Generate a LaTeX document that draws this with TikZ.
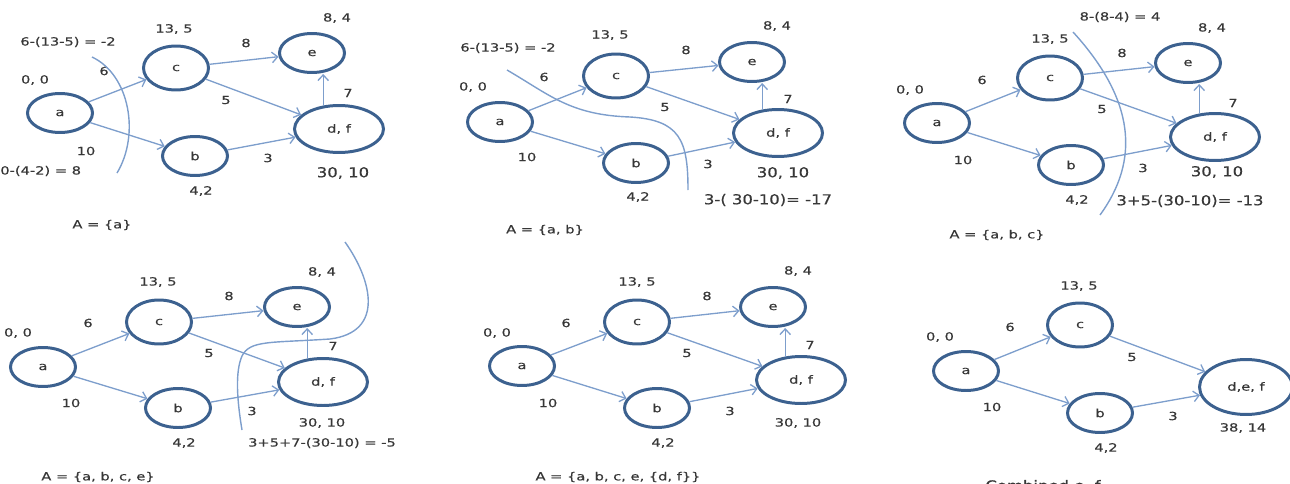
\documentclass[tikz,border=0pt]{standalone}
\usepackage{fontspec}
\setmainfont{DejaVu Sans}
\newfontfamily\smfont[FakeStretch=1.3,FakeBold=0.4]{DejaVu Sans}
\newfontfamily\lgfont[FakeStretch=1.2,FakeBold=0.4]{DejaVu Sans}
\usetikzlibrary{shapes.geometric,arrows.meta}
\definecolor{nodeblue}{RGB}{60,97,143}
\definecolor{edgeblue}{RGB}{125,158,204}
\definecolor{txt}{RGB}{55,55,55}
\tikzset{
 vert/.style={ellipse, draw=nodeblue, line width=1.7pt, minimum width=1.30cm, minimum height=0.78cm, inner sep=0pt, text=txt, font=\smfont\fontsize{6.4}{7}\selectfont},
 tall/.style={minimum height=0.88cm},
 big/.style={minimum width=1.78cm, minimum height=0.94cm},
 lab/.style={inner sep=0pt, text=txt, font=\smfont\fontsize{6.4}{7}\selectfont},
 lablg/.style={inner sep=0pt, text=txt, font=\lgfont\fontsize{7.8}{9}\selectfont},
 edge/.style={draw=edgeblue, line width=0.75pt, -{Straight Barb[length=3.2pt,width=6pt]}},
 cutline/.style={draw=edgeblue, line width=0.8pt},
}
\begin{document}
\begin{tikzpicture}[x=0.02cm,y=-0.02cm]
\useasboundingbox (0,0) rectangle (1290,483);
\clip (0,0) rectangle (1290,483);
% ---------------- Panel 1 ----------------
\node[vert] (a1) at (60,113) {a};
\node[vert,tall] (c1) at (176,68) {c};
\node[vert] (e1) at (312,53) {e};
\node[vert] (b1) at (195,156) {b};
\node[vert,big] (d1) at (339,129) {d, f};
\draw[edge] (a1) -- (c1);
\draw[edge] (a1) -- (b1);
\draw[edge] (c1) -- (e1);
\draw[edge] (c1) -- (d1);
\draw[edge] (b1) -- (d1);
\draw[edge] (d1.124) -- (d1.124 |- e1.south);
\node[lab] (p1n00) at (35,80) {0, 0};
\node[lab] (p1n135) at (174,29) {13, 5};
\node[lab] (p1n84) at (337,18) {8, 4};
\node[lab] (p1n42) at (201,191) {4,2};
\node[lablg] (p1n3010) at (343,173) {30, 10};
\node[lab] (p1w6) at (104,71) {6};
\node[lab] (p1w10) at (86,151) {10};
\node[lab] (p1w8) at (246,43) {8};
\node[lab] (p1w5) at (226,100) {5};
\node[lab] (p1w3) at (268,158) {3};
\node[lab] (p1w7) at (348,93) {7};
\node[lab] (p1f1) at (68,42) {6-(13-5) = -2};
\node[lab,anchor=west] (p1f2) at (0,171) {0-(4-2) = 8};
\node[lab] (p1cap) at (102,225) {A = \{a\}};
\draw[cutline] (92,57) .. controls (130,75) and (140,135) .. (117,173);
% ---------------- Panel 2 ----------------
\node[vert] (a2) at (500,122) {a};
\node[vert,tall] (c2) at (616,76) {c};
\node[vert] (e2) at (752,62) {e};
\node[vert] (b2) at (636,163) {b};
\node[vert,big] (d2) at (778,133) {d, f};
\draw[edge] (a2) -- (c2);
\draw[edge] (a2) -- (b2);
\draw[edge] (c2) -- (e2);
\draw[edge] (c2) -- (d2);
\draw[edge] (b2) -- (d2);
\draw[edge] (d2.124) -- (d2.124 |- e2.south);
\node[lab] (p2n00) at (473,87) {0, 0};
\node[lab] (p2n135) at (610,35) {13, 5};
\node[lab] (p2n84) at (777,26) {8, 4};
\node[lab] (p2n42) at (638,197) {4,2};
\node[lablg] (p2n3010) at (783,173) {30, 10};
\node[lab] (p2w6) at (544,77) {6};
\node[lab] (p2w10) at (527,157) {10};
\node[lab] (p2w8) at (686,50) {8};
\node[lab] (p2w5) at (665,107) {5};
\node[lab] (p2w3) at (708,164) {3};
\node[lab] (p2w7) at (788,99) {7};
\node[lab] (p2f1) at (508,48) {6-(13-5) = -2};
\node[lablg] (p2f2) at (768,200) {3-( 30-10)= -17};
\node[lab] (p2cap) at (545,230) {A = \{a, b\}};
\draw[cutline] (507,70) .. controls (550,95) and (570,115) .. (630,117)
  .. controls (680,120) and (688,140) .. (688,190);
% ---------------- Panel 3 ----------------
\node[vert] (a3) at (937,123) {a};
\node[vert,tall] (c3) at (1050,78) {c};
\node[vert] (e3) at (1188,63) {e};
\node[vert] (b3) at (1071,165) {b};
\node[vert,big] (d3) at (1215,137) {d, f};
\draw[edge] (a3) -- (c3);
\draw[edge] (a3) -- (b3);
\draw[edge] (c3) -- (e3);
\draw[edge] (c3) -- (d3);
\draw[edge] (b3) -- (d3);
\draw[edge] (d3.124) -- (d3.124 |- e3.south);
\node[lab] (p3n00) at (910,90) {0, 0};
\node[lab] (p3n135) at (1050,39) {13, 5};
\node[lab] (p3n84) at (1212,28) {8, 4};
\node[lab] (p3n42) at (1077,200) {4,2};
\node[lablg] (p3n3010) at (1217,172) {30, 10};
\node[lab] (p3w6) at (982,80) {6};
\node[lab] (p3w10) at (963,160) {10};
\node[lab] (p3w8) at (1122,53) {8};
\node[lab] (p3w5) at (1102,109) {5};
\node[lab] (p3w3) at (1143,168) {3};
\node[lab] (p3w7) at (1233,103) {7};
\node[lab] (p3f1) at (1120,17) {8-(8-4) = 4};
\node[lablg] (p3f2) at (1190,201) {3+5-(30-10)= -13};
\node[lab] (p3cap) at (997,235) {A = \{a, b, c\}};
\draw[cutline] (1073,32) .. controls (1135,100) and (1140,160) .. (1100,215);
% ---------------- Panel 4 ----------------
\node[vert] (a4) at (43,367) {a};
\node[vert,tall] (c4) at (159,322) {c};
\node[vert] (e4) at (297,307) {e};
\node[vert] (b4) at (178,408) {b};
\node[vert,big] (d4) at (323,382) {d, f};
\draw[edge] (a4) -- (c4);
\draw[edge] (a4) -- (b4);
\draw[edge] (c4) -- (e4);
\draw[edge] (c4) -- (d4);
\draw[edge] (b4) -- (d4);
\draw[edge] (d4.124) -- (d4.124 |- e4.south);
\node[lab] (p4n00) at (18,333) {0, 0};
\node[lab] (p4n135) at (158,282) {13, 5};
\node[lab] (p4n84) at (322,272) {8, 4};
\node[lab] (p4n42) at (184,443) {4,2};
\node[lab] (p4n3010) at (322,423) {30, 10};
\node[lab] (p4w6) at (88,323) {6};
\node[lab] (p4w10) at (71,403) {10};
\node[lab] (p4w8) at (229,296) {8};
\node[lab] (p4w5) at (209,353) {5};
\node[lab] (p4w3) at (252,411) {3};
\node[lab] (p4w7) at (333,346) {7};
\node[lab] (p4f1) at (322,443) {3+5+7-(30-10) = -5};
\node[lab] (p4cap) at (98,477) {A = \{a, b, c, e\}};
\draw[cutline] (345,242) .. controls (372,280) and (385,332) .. (330,339)
  .. controls (270,343) and (250,340) .. (242,356)
  .. controls (235,372) and (237,400) .. (242,430);
% ---------------- Panel 5 ----------------
\node[vert] (a5) at (522,366) {a};
\node[vert,tall] (c5) at (637,322) {c};
\node[vert] (e5) at (773,307) {e};
\node[vert] (b5) at (657,408) {b};
\node[vert,big] (d5) at (801,380) {d, f};
\draw[edge] (a5) -- (c5);
\draw[edge] (a5) -- (b5);
\draw[edge] (c5) -- (e5);
\draw[edge] (c5) -- (d5);
\draw[edge] (b5) -- (d5);
\draw[edge] (d5.124) -- (d5.124 |- e5.south);
\node[lab] (p5n00) at (497,333) {0, 0};
\node[lab] (p5n135) at (637,282) {13, 5};
\node[lab] (p5n84) at (798,271) {8, 4};
\node[lab] (p5n42) at (663,443) {4,2};
\node[lab] (p5n3010) at (798,423) {30, 10};
\node[lab] (p5w6) at (566,323) {6};
\node[lab] (p5w10) at (548,403) {10};
\node[lab] (p5w8) at (707,296) {8};
\node[lab] (p5w5) at (687,353) {5};
\node[lab] (p5w3) at (730,411) {3};
\node[lab] (p5w7) at (810,345) {7};
\node[lab] (p5cap) at (618,477) {A = \{a, b, c, e, \{d, f\}\}};
% ---------------- Panel 6 ----------------
\node[vert] (a6) at (966,371) {a};
\node[vert,tall] (c6) at (1080,325) {c};
\node[vert] (b6) at (1100,413) {b};
\node[vert,minimum width=1.86cm,minimum height=1.1cm] (d6) at (1246,387) {d,e, f};
\draw[edge] (a6) -- (c6);
\draw[edge] (a6) -- (b6);
\draw[edge] (c6) -- (d6);
\draw[edge] (b6) -- (d6);
\node[lab] (p6n00) at (940,337) {0, 0};
\node[lab] (p6n135) at (1079,286) {13, 5};
\node[lab] (p6n42) at (1106,448) {4,2};
\node[lab] (p6n3814) at (1243,428) {38, 14};
\node[lab] (p6w6) at (1010,327) {6};
\node[lab] (p6w10) at (992,407) {10};
\node[lab] (p6w5) at (1132,357) {5};
\node[lab] (p6w3) at (1173,416) {3};
\node[lablg] (p6cap) at (1043,486) {Combined e, f};
\end{tikzpicture}
\end{document}
